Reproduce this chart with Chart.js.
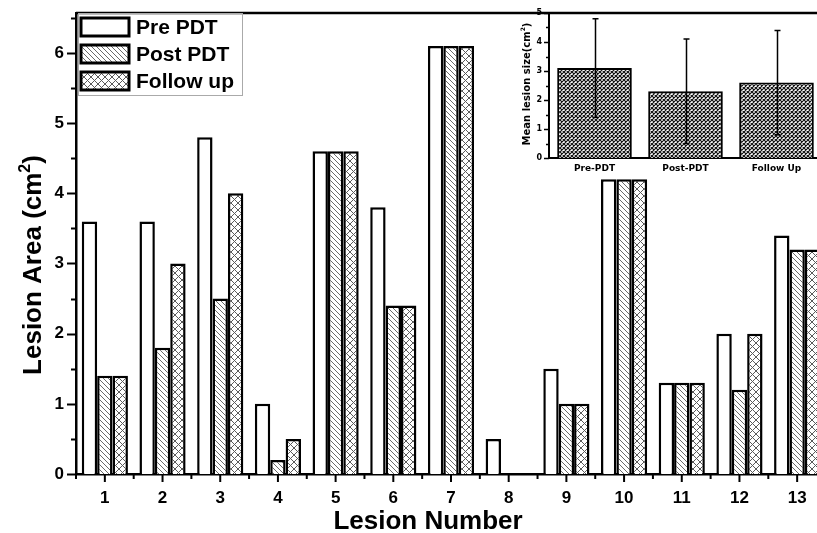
<!DOCTYPE html>
<html>
<head>
<meta charset="utf-8">
<script src="https://cdn.jsdelivr.net/npm/chart.js@4.4.1/dist/chart.umd.min.js"></script>
<style>
    html, body { margin: 0; padding: 0; background: #fff; overflow: hidden; width: 817px; height: 533px; }
    #wrap  { position: relative; width: 817px; height: 533px; overflow: hidden; }
    #main  { position: absolute; left: 0; top: 0; }
    #inset { position: absolute; left: 500px; top: 0; }
</style>
</head>
<body>
<div id="wrap">
    <canvas id="main" width="840" height="533"></canvas>
    <canvas id="inset" width="330" height="178"></canvas>
</div>
<script>
// ─── Data ──────────────────────────────────────────────────────────────────
const lesions   = ['1', '2', '3', '4', '5', '6', '7', '8', '9', '10', '11', '12', '13'];
const prePDT    = [3.6, 3.6, 4.8, 1.0, 4.6, 3.8, 6.1, 0.5, 1.5, 4.2, 1.3, 2.0, 3.4];
const postPDT   = [1.4, 1.8, 2.5, 0.2, 4.6, 2.4, 6.1, 0.0, 1.0, 4.2, 1.3, 1.2, 3.2];
const followUp  = [1.4, 3.0, 4.0, 0.5, 4.6, 2.4, 6.1, 0.0, 1.0, 4.2, 1.3, 2.0, 3.2];
const seriesNames = ['Pre PDT', 'Post PDT', 'Follow up'];

const insetGroups = ['Pre-PDT', 'Post-PDT', 'Follow Up'];
const insetMeans  = [3.1, 2.3, 2.6];
const insetSD     = [1.7, 1.8, 1.8];

const FONT = "'Liberation Sans', Arial, sans-serif";
const INSET_FONT = "'DejaVu Sans', Verdana, sans-serif";

// ─── Helper: hatch patterns ────────────────────────────────────────────────
function makePattern(size, draw) {
    const c = document.createElement('canvas');
    c.width = c.height = size;
    const g = c.getContext('2d');
    g.fillStyle = '#fff';
    g.fillRect(0, 0, size, size);
    draw(g, size);
    return g.createPattern(c, 'repeat');
}
function back(g, s) {
    for (let k = -1; k <= 1; k++) { g.moveTo(k * s, 0); g.lineTo(k * s + s, s); }
}
function fwd(g, s) {
    for (let k = -1; k <= 1; k++) { g.moveTo(k * s, s); g.lineTo(k * s + s, 0); }
}
const diagPattern = makePattern(5, (g, s) => {
    g.strokeStyle = '#6a6a6a'; g.lineWidth = 1;
    g.beginPath(); back(g, s); g.stroke();
});
const crossPattern = makePattern(7, (g, s) => {
    g.strokeStyle = '#5a5a5a'; g.lineWidth = 1;
    g.beginPath(); back(g, s); fwd(g, s); g.stroke();
});
const checkerPattern = makePattern(4, (g, s) => {
    g.strokeStyle = '#111'; g.lineWidth = 1.2;
    g.beginPath(); back(g, s); fwd(g, s); g.stroke();
});
const fills = ['#fff', diagPattern, crossPattern];

// no automatic edge padding, the plot box is fixed
function noPad(s) {
    s.paddingTop = 0; s.paddingBottom = 0;
    s.paddingLeft = 0; s.paddingRight = 0;
}

// ─── Main chart decorations ────────────────────────────────────────────────
const mainDeco = {
    id: 'mainDeco',
    afterDraw(chart) {
        const ctx = chart.ctx;
        const a = chart.chartArea;
        const xs = chart.scales.x, ys = chart.scales.y;
        ctx.save();
        ctx.strokeStyle = '#000';

        // top frame line
        ctx.lineWidth = 2.5;
        ctx.beginPath(); ctx.moveTo(a.left, a.top); ctx.lineTo(chart.width, a.top); ctx.stroke();

        // y tick marks
        ctx.lineWidth = 2;
        for (let v = 0; v <= 6.5; v += 0.5) {
            const y = Math.round(ys.getPixelForValue(v)) + 0.5;
            const len = Number.isInteger(v) ? 9 : 5;
            ctx.beginPath(); ctx.moveTo(a.left, y); ctx.lineTo(a.left - len, y); ctx.stroke();
        }
        // x tick marks
        const step = xs.getPixelForValue(1) - xs.getPixelForValue(0);
        for (let i = 0; i < lesions.length; i++) {
            const x = xs.getPixelForValue(i);
            ctx.beginPath(); ctx.moveTo(x, a.bottom); ctx.lineTo(x, a.bottom + 8); ctx.stroke();
            const m = x - step / 2;
            ctx.beginPath(); ctx.moveTo(m, a.bottom); ctx.lineTo(m, a.bottom + 5); ctx.stroke();
        }

        // axis titles
        ctx.fillStyle = '#000';
        ctx.font = 'bold 26px ' + FONT;
        ctx.textAlign = 'center';
        ctx.textBaseline = 'alphabetic';
        ctx.fillText('Lesion Number', 428, 529);

        ctx.save();
        ctx.translate(41, 265);
        ctx.rotate(-Math.PI / 2);
        const main = 'Lesion Area (cm';
        ctx.font = 'bold 26px ' + FONT;
        const w1 = ctx.measureText(main).width;
        const w3 = ctx.measureText(')').width;
        ctx.font = 'bold 16px ' + FONT;
        const w2 = ctx.measureText('2').width;
        let x0 = -(w1 + w2 + w3) / 2;
        ctx.textAlign = 'left';
        ctx.font = 'bold 26px ' + FONT;
        ctx.fillText(main, x0, 0);
        ctx.font = 'bold 16px ' + FONT;
        ctx.fillText('2', x0 + w1, -11);
        ctx.font = 'bold 26px ' + FONT;
        ctx.fillText(')', x0 + w1 + w2, 0);
        ctx.restore();

        // legend
        ctx.lineWidth = 1;
        ctx.strokeStyle = '#aaa';
        ctx.strokeRect(78.5, 13.5, 164, 82);
        const rows = [18, 45, 72];
        ctx.font = 'bold 21px ' + FONT;
        ctx.textAlign = 'left';
        ctx.textBaseline = 'middle';
        seriesNames.forEach((name, i) => {
            ctx.fillStyle = fills[i];
            ctx.fillRect(81, rows[i], 48, 18);
            ctx.strokeStyle = '#000';
            ctx.lineWidth = 3;
            ctx.strokeRect(81, rows[i], 48, 18);
            ctx.fillStyle = '#000';
            ctx.fillText(name, 136, rows[i] + 10);
        });
        ctx.restore();
    }
};

function barSet(label, data, fill) {
    return {
        label, data,
        backgroundColor: fill,
        borderColor: '#000',
        borderWidth: 2.5,
        borderSkipped: 'start',
        barPercentage: 1.0,
        categoryPercentage: 0.8
    };
}

new Chart(document.getElementById('main'), {
    type: 'bar',
    data: {
        labels: lesions,
        datasets: [
            barSet(seriesNames[0], prePDT, fills[0]),
            barSet(seriesNames[1], postPDT, fills[1]),
            barSet(seriesNames[2], followUp, fills[2])
        ]
    },
    options: {
        responsive: false,
        animation: false,
        events: [],
        layout: { autoPadding: false, padding: { top: 13, right: 14, left: 0, bottom: 0 } },
        plugins: { legend: { display: false }, tooltip: { enabled: false } },
        scales: {
            x: {
                grid: { display: false, drawTicks: false },
                border: { display: true, color: '#000', width: 2.5 },
                ticks: { color: '#000', font: { family: FONT, weight: 'bold', size: 17 }, padding: 14, maxRotation: 0 },
                afterFit: s => { s.height = 59; noPad(s); }
            },
            y: {
                min: 0, max: 6.57,
                grid: { display: false, drawTicks: false },
                border: { display: true, color: '#000', width: 2.5 },
                ticks: {
                    stepSize: 1, color: '#000', padding: 12,
                    font: { family: FONT, weight: 'bold', size: 17 },
                    callback: v => Number.isInteger(v) ? v : ''
                },
                afterFit: s => { s.width = 76; noPad(s); }
            }
        }
    },
    plugins: [mainDeco]
});

// ─── Inset chart ───────────────────────────────────────────────────────────
const insetDeco = {
    id: 'insetDeco',
    afterDraw(chart) {
        const ctx = chart.ctx;
        const a = chart.chartArea;
        const xs = chart.scales.x, ys = chart.scales.y;
        ctx.save();
        ctx.strokeStyle = '#000';

        // error bars
        ctx.lineWidth = 1.5;
        insetMeans.forEach((m, i) => {
            const x = Math.round(xs.getPixelForValue(i)) + 0.5;
            const yT = ys.getPixelForValue(m + insetSD[i]);
            const yB = ys.getPixelForValue(m - insetSD[i]);
            ctx.beginPath();
            ctx.moveTo(x, yT); ctx.lineTo(x, yB);
            ctx.moveTo(x - 3, yT); ctx.lineTo(x + 3, yT);
            ctx.moveTo(x - 3, yB); ctx.lineTo(x + 3, yB);
            ctx.stroke();
        });

        // y tick marks
        ctx.lineWidth = 1.5;
        for (let v = 0; v <= 5; v += 0.5) {
            const y = Math.round(ys.getPixelForValue(v)) + 0.5;
            const len = Number.isInteger(v) ? 5 : 3;
            ctx.beginPath(); ctx.moveTo(a.left, y); ctx.lineTo(a.left - len, y); ctx.stroke();
        }

        // y title
        ctx.fillStyle = '#000';
        ctx.translate(27, 84);
        ctx.rotate(-Math.PI / 2);
        ctx.textBaseline = 'middle';
        ctx.textAlign = 'left';
        const t = 'Mean lesion size(cm';
        ctx.font = 'bold 10px ' + INSET_FONT;
        const w1 = ctx.measureText(t).width;
        const w3 = ctx.measureText(')').width;
        ctx.font = 'bold 6px ' + INSET_FONT;
        const w2 = ctx.measureText('2').width;
        const x0 = -(w1 + w2 + w3) / 2;
        ctx.font = 'bold 10px ' + INSET_FONT;
        ctx.fillText(t, x0, 0);
        ctx.font = 'bold 6px ' + INSET_FONT;
        ctx.fillText('2', x0 + w1, -4);
        ctx.font = 'bold 10px ' + INSET_FONT;
        ctx.fillText(')', x0 + w1 + w2, 0);
        ctx.restore();
    }
};

new Chart(document.getElementById('inset'), {
    type: 'bar',
    data: {
        labels: insetGroups,
        datasets: [{
            data: insetMeans,
            backgroundColor: checkerPattern,
            borderColor: '#000',
            borderWidth: 2,
            borderSkipped: 'start',
            barPercentage: 0.82,
            categoryPercentage: 1.0
        }]
    },
    options: {
        responsive: false,
        animation: false,
        events: [],
        layout: { autoPadding: false, padding: { top: 13, right: 8, left: 0, bottom: 0 } },
        plugins: { legend: { display: false }, tooltip: { enabled: false } },
        scales: {
            x: {
                grid: { display: false, drawTicks: false },
                border: { display: true, color: '#000', width: 2 },
                ticks: { color: '#000', font: { family: INSET_FONT, weight: 'bold', size: 9 }, padding: 5, maxRotation: 0 },
                afterFit: s => { s.height = 20; noPad(s); }
            },
            y: {
                min: 0, max: 5,
                grid: { display: false, drawTicks: false },
                border: { display: true, color: '#000', width: 2 },
                ticks: { stepSize: 1, color: '#000', padding: 7, font: { family: INSET_FONT, weight: 'bold', size: 8 } },
                afterFit: s => { s.width = 49; noPad(s); }
            }
        }
    },
    plugins: [insetDeco]
});
</script>
</body>
</html>
